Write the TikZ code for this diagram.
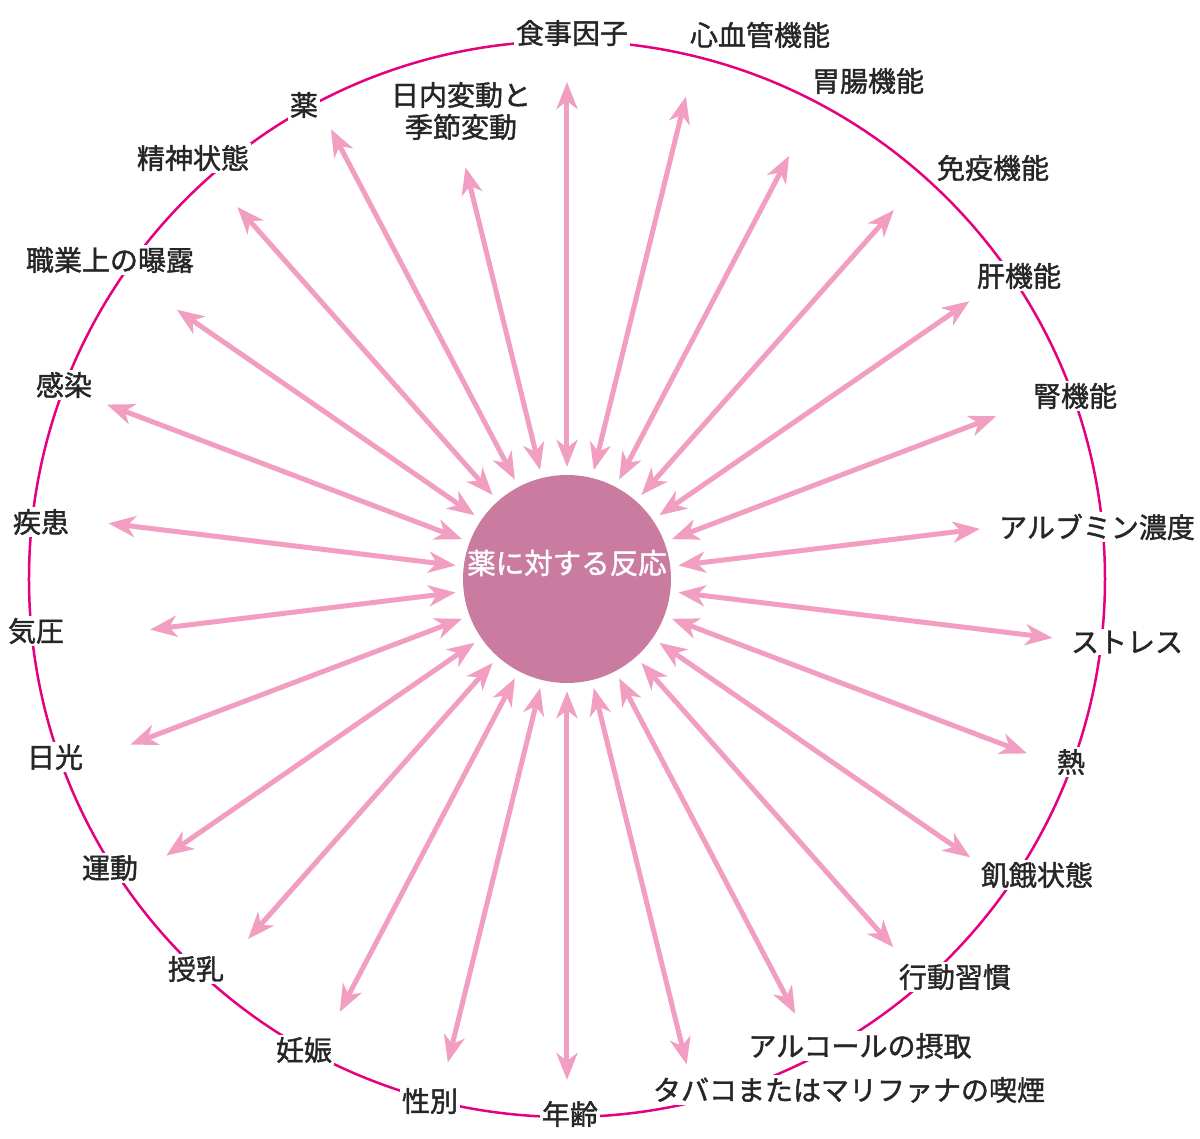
\documentclass[tikz,border=0pt]{standalone}
\usepackage{fontspec}
\setmainfont{Noto Sans CJK JP}[FakeBold=1.4]
\usepackage{tikz}
\usetikzlibrary{arrows.meta,positioning}

\definecolor{ringpink}{HTML}{E4007F}
\definecolor{arrowpink}{HTML}{F19EC2}
\definecolor{corepink}{HTML}{C97BA0}

\tikzset{
  factor/.style={fill=white, inner sep=2pt, text=black!85, font=\fontsize{28}{32}\selectfont, align=center},
  link/.style={draw=arrowpink, line width=5pt, shorten <=8pt,
    {Stealth[length=27pt,width=21pt,inset=8pt]}-{Stealth[length=27pt,width=21pt,inset=8pt]}}
}

\begin{document}
\begin{tikzpicture}[x=1pt,y=1pt]
\useasboundingbox (-567,-560) rectangle (633,579);

% outer ring
\draw[ringpink, line width=2.5pt] (0,0) circle (538);

% drug response
\node[circle, fill=corepink, minimum size=208pt, inner sep=0pt] (resp) at (0,0) {};
\node[text=white, font=\fontsize{28.5}{32}\selectfont] (resptext) at (0,16) {薬に対する反応};

% arrows from the centre
\foreach \r [count=\i from 0] in {497,497,478,493,489,459,416,489,492,490,492,491,500,501,498,489,481,487,467,420,462,492,474,497,508,424}{
  \coordinate (tip\i) at ({90-\i*360/26}:\r);
  \draw[link] (resp) -- (tip\i);
}

% factors
\node[factor] (diet) at (5,546) {食事因子};
\node[factor] (heart) at (193,544) {心血管機能};
\node[factor] (gut) at (301,498) {胃腸機能};
\node[factor] (immune) at (426,411) {免疫機能};
\node[factor] (liver) at (452,303) {肝機能};
\node[factor] (kidney) at (508,183) {腎機能};
\node[factor] (albumin) at (530,52) {アルブミン濃度};
\node[factor] (stress) at (560,-63) {ストレス};
\node[factor] (fever) at (504,-183) {熱};
\node[factor] (hunger) at (470,-296) {飢餓状態};
\node[factor] (habit) at (388,-398) {行動習慣};
\node[factor] (alcohol) at (293,-467) {アルコールの摂取};
\node[factor] (smoke) at (282,-511) {タバコまたはマリファナの喫煙};
\node[factor] (age) at (3,-535) {年齢};
\node[factor] (sex) at (-137,-522) {性別};
\node[factor] (preg) at (-263,-471) {妊娠};
\node[factor] (lact) at (-371,-390) {授乳};
\node[factor] (exercise) at (-457,-289) {運動};
\node[factor] (sun) at (-512,-178) {日光};
\node[factor] (pressure) at (-531,-52) {気圧};
\node[factor] (disease) at (-526,57) {疾患};
\node[factor] (infect) at (-503,194) {感染};
\node[factor] (work) at (-457,319) {職業上の曝露};
\node[factor] (mind) at (-374,421) {精神状態};
\node[factor] (drug) at (-263,474) {薬};
\node[factor] (rhythm) at (-106,468) {日内変動と\\季節変動};
\end{tikzpicture}
\end{document}
